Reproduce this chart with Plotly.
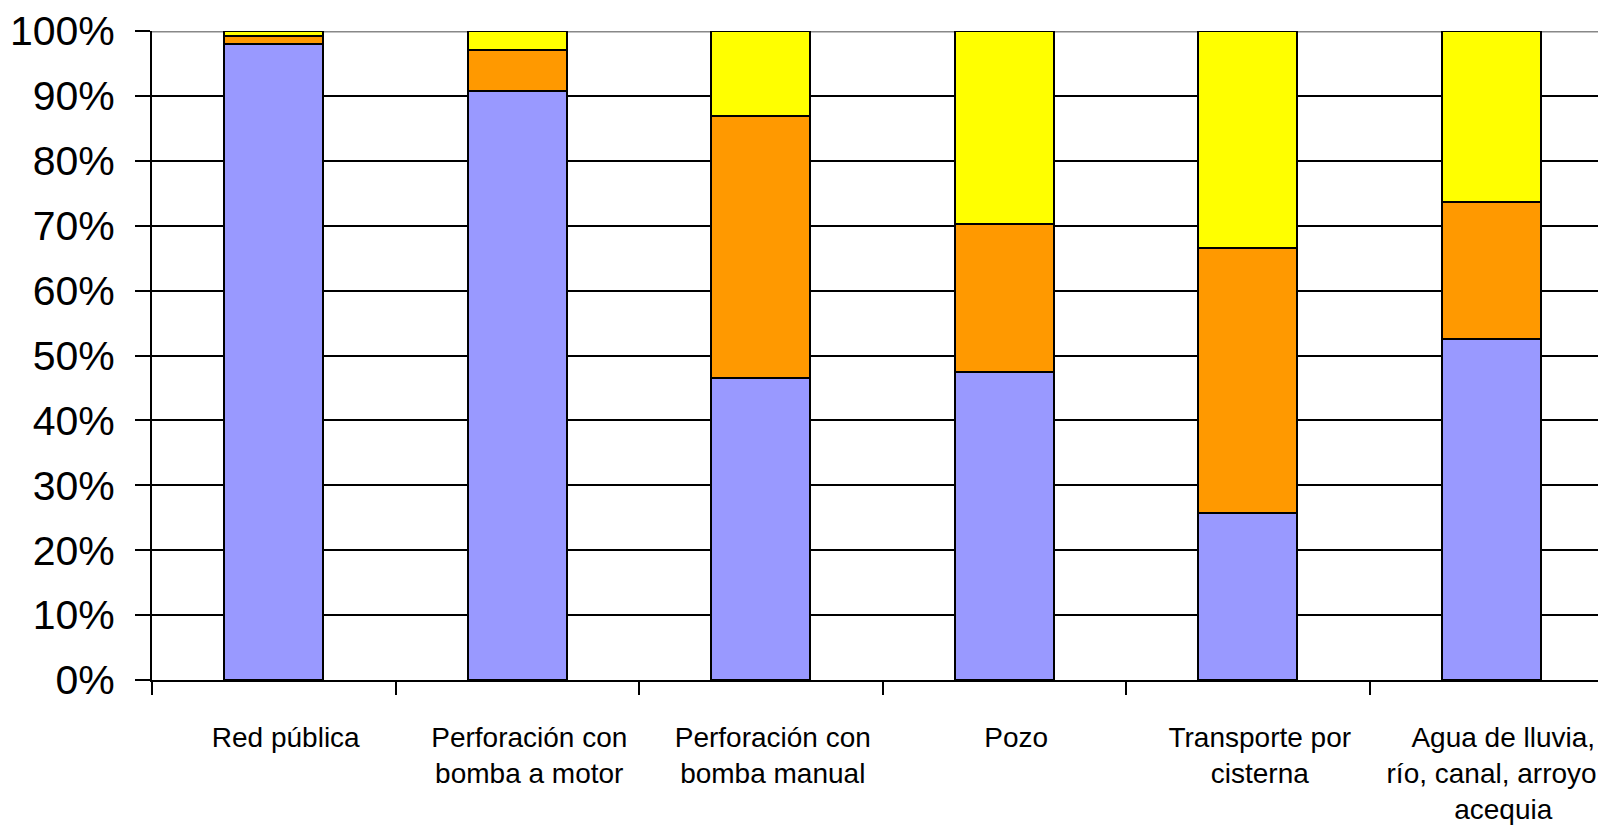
import plotly.graph_objects as go

categories = ["Red pública", "Perforación con<br>bomba a motor", "Perforación con<br>bomba manual",
              "Pozo", "Transporte por<br>cisterna", "Agua de lluvia,<br>río, canal, arroyo o<br>acequia"]
serie_azul = [98.0, 90.7, 46.6, 47.4, 25.8, 52.5]
serie_naranja = [1.2, 6.4, 40.3, 22.9, 40.7, 21.2]
serie_amarilla = [0.8, 2.9, 13.1, 29.7, 33.5, 26.3]
y_ticks = [0, 10, 20, 30, 40, 50, 60, 70, 80, 90, 100]
y_ticklabels = [f"{v}%" for v in y_ticks]

W, H = 1598, 836
L, T, B = 152, 30.6, 156
cat_px = 243.5
plot_w = W - L
xmax = -0.5 + plot_w / cat_px

fig = go.Figure()
for vals, col in [(serie_azul, "#9999FF"), (serie_naranja, "#FF9900"), (serie_amarilla, "#FFFF00")]:
    fig.add_trace(go.Bar(x=categories, y=vals, marker=dict(color=col, line=dict(color="black", width=2)),
                         width=0.405, cliponaxis=False, showlegend=False, hoverinfo="skip"))

fig.add_shape(type="line", xref="paper", yref="y", x0=0, x1=1, y0=100, y1=100,
              line=dict(color="#888888", width=3), layer="below")

fig.update_layout(
    barmode="stack", width=W, height=H,
    margin=dict(l=L, r=0, t=T, b=B, pad=0),
    paper_bgcolor="white", plot_bgcolor="white",
    font=dict(family="Liberation Sans, Arial, sans-serif", color="black"),
    xaxis=dict(type="category", categoryorder="array", categoryarray=categories,
               range=[-0.5, xmax], automargin=False,
               tickson="boundaries", ticks="outside", ticklen=13, tickwidth=2, tickcolor="black",
               showline=True, linecolor="black", linewidth=2, showgrid=False,
               tickfont=dict(size=28, family="Liberation Sans, Arial, sans-serif"),
               tickangle=0, ticklabelstandoff=31, ticklabelshift=12,
               ticklabeloverflow="allow", zeroline=False),
    yaxis=dict(range=[0, 100], tickmode="array", tickvals=y_ticks, ticktext=y_ticklabels,
               automargin=False,
               ticks="outside", ticklen=15, tickwidth=2, tickcolor="black",
               showline=True, linecolor="black", linewidth=2,
               showgrid=True, gridcolor="black", gridwidth=2, zeroline=False,
               tickfont=dict(size=41, family="Liberation Sans, Arial, sans-serif"),
               ticklabelstandoff=12, ticklabeloverflow="allow"),
)

fig.write_html("out.html", config={"displayModeBar": False},
               post_script="document.body.style.margin='0';document.body.style.overflow='hidden';")
